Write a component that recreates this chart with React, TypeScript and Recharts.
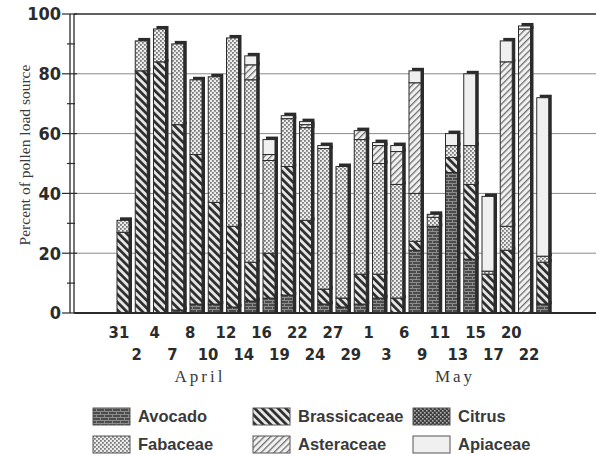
import React from 'react';
import { BarChart, Bar, XAxis, YAxis, CartesianGrid, ReferenceLine } from 'recharts';

// collection dates (day of month), Mar 31 -> May 22
const days = ['31', '2', '4', '7', '8', '10', '12', '14', '16', '19', '22', '24', '27', '29', '1', '3', '6', '9', '11', '13', '15', '17', '20', '22'];
const months = ['Mar', 'Apr', 'Apr', 'Apr', 'Apr', 'Apr', 'Apr', 'Apr', 'Apr', 'Apr', 'Apr', 'Apr', 'Apr', 'Apr', 'May', 'May', 'May', 'May', 'May', 'May', 'May', 'May', 'May', 'May'];

// percent of pollen load by source
const avocado = [0, 0, 0, 1, 3, 3, 2, 4, 5, 6, 0, 3, 2, 3, 5, 0, 21, 29, 47, 18, 0, 0, 0, 3];
const brassicaceae = [27, 81, 84, 62, 50, 34, 27, 13, 15, 43, 31, 5, 3, 10, 8, 5, 3, 0, 5, 25, 13, 21, 0, 14];
const citrus = [0, 0, 0, 0, 0, 0, 0, 0, 0, 0, 0, 0, 0, 0, 0, 0, 0, 0, 0, 0, 0, 0, 0, 0];
const fabaceae = [4, 10, 11, 27, 25, 42, 63, 61, 31, 16, 31, 47, 44, 45, 37, 38, 16, 3, 4, 13, 1, 8, 0, 2];
const asteraceae = [0, 0, 0, 0, 0, 0, 0, 5, 2, 0, 1, 0, 0, 3, 6, 11, 37, 1, 0, 0, 0, 55, 95, 0];
const apiaceae = [0, 0, 0, 0, 0, 0, 0, 3, 5, 1, 1, 1, 0, 0, 1, 2, 4, 0, 4, 24, 25, 7, 1, 53];

const yTicks = [0, 10, 20, 30, 40, 50, 60, 70, 80, 90, 100];
const gridValues = [20, 40, 60, 80];

const series = [
  { key: 'avocado', name: 'Avocado', values: avocado, pattern: 'pAvocado' },
  { key: 'brassicaceae', name: 'Brassicaceae', values: brassicaceae, pattern: 'pBrass' },
  { key: 'citrus', name: 'Citrus', values: citrus, pattern: 'pCitrus' },
  { key: 'fabaceae', name: 'Fabaceae', values: fabaceae, pattern: 'pFab' },
  { key: 'asteraceae', name: 'Asteraceae', values: asteraceae, pattern: 'pAster' },
  { key: 'apiaceae', name: 'Apiaceae', values: apiaceae, pattern: 'pApi' },
];

const data = days.map((d, i) => {
  const row: Record<string, any> = { key: `${months[i]} ${d}` };
  series.forEach((s) => { row[s.key] = s.values[i]; });
  return row;
});

const W = 597;
const H = 454;
const TOP = 14;
const BOTTOM = 313;
const PLOT_LEFT = 74;
const PLOT_RIGHT = 596;
const BAR_PAD = { left: 41, right: 43 };
const LABEL_PAD = { left: 36, right: 58 };
const BAND = (PLOT_RIGHT - PLOT_LEFT - BAR_PAD.left - BAR_PAD.right) / days.length;

const NARROW = '"Liberation Sans Narrow", "DejaVu Sans Condensed", "Arial Narrow", sans-serif';
const SERIF = '"Liberation Serif", "DejaVu Serif", serif';
const SANS = '"Liberation Sans", Arial, sans-serif';
const INK = '#2b2b2b';

const Patterns = () => (
  <defs>
    <pattern id="pAvocado" width="8" height="6" patternUnits="userSpaceOnUse">
      <rect width="8" height="6" fill="#4c4c4c" />
      <line x1="0" y1="0.5" x2="8" y2="0.5" stroke="#8c8c8c" strokeWidth="1" />
      <line x1="0" y1="3.5" x2="8" y2="3.5" stroke="#8c8c8c" strokeWidth="1" />
      <line x1="0.5" y1="0" x2="0.5" y2="3" stroke="#8c8c8c" strokeWidth="1" />
      <line x1="4.5" y1="3" x2="4.5" y2="6" stroke="#8c8c8c" strokeWidth="1" />
    </pattern>
    <pattern id="pBrass" width="5.5" height="5.5" patternUnits="userSpaceOnUse" patternTransform="rotate(-45)">
      <rect width="5.5" height="5.5" fill="#e6e6e6" />
      <rect width="2.7" height="5.5" fill="#2e2e2e" />
    </pattern>
    <pattern id="pCitrus" width="4" height="4" patternUnits="userSpaceOnUse">
      <rect width="4" height="4" fill="#3e3e3e" />
      <rect x="0" y="0" width="1.6" height="1.6" fill="#b0b0b0" />
      <rect x="2" y="2" width="1.6" height="1.6" fill="#b0b0b0" />
    </pattern>
    <pattern id="pFab" width="4" height="4" patternUnits="userSpaceOnUse">
      <rect width="4" height="4" fill="#ececec" />
      <rect x="0" y="0" width="1.8" height="1.8" fill="#7c7c7c" />
      <rect x="2" y="2" width="1.8" height="1.8" fill="#7c7c7c" />
    </pattern>
    <pattern id="pAster" width="4.5" height="4.5" patternUnits="userSpaceOnUse" patternTransform="rotate(45)">
      <rect width="4.5" height="4.5" fill="#f1f1f1" />
      <rect width="1.3" height="4.5" fill="#707070" />
    </pattern>
    <pattern id="pApi" width="4" height="4" patternUnits="userSpaceOnUse">
      <rect width="4" height="4" fill="#f0f0f0" />
    </pattern>
  </defs>
);

// one stacked segment, with the dark offset "shadow" on the right and top
const Segment = (props: any) => {
  const { x, y, width, height, fill } = props;
  if (!height || height <= 0) return <g />;
  const bx = x - 1;
  return (
    <g>
      <rect x={bx + 3} y={y - 3} width={width} height={height + 3} fill={INK} />
      <rect x={bx} y={y} width={width} height={height} fill={fill} stroke={INK} strokeWidth={1} />
    </g>
  );
};

// small tick marks between bars
const BoundaryTick = (props: any) => {
  const { x, y, index } = props;
  const h = BAND / 2;
  return (
    <g>
      <line x1={x - h} x2={x - h} y1={y} y2={y + 5} stroke={INK} strokeWidth={1.2} />
      {index === 0 && <line x1={x - 3 * h} x2={x - 3 * h} y1={y} y2={y + 5} stroke={INK} strokeWidth={1.2} />}
    </g>
  );
};

const DayTick = (props: any) => {
  const { x, y, index } = props;
  const lower = index % 2 === 1;
  return (
    <text x={x} y={y + (lower ? 47 : 25)} textAnchor="middle" fontFamily={NARROW} fontWeight="bold" fontSize={16.5} fill={INK}>
      {days[index]}
    </text>
  );
};

const PctTick = (props: any) => {
  const { x, y, payload } = props;
  const v = payload.value;
  if (v % 20 !== 0) {
    return <line x1={x - 7} x2={x + 1} y1={y} y2={y} stroke={INK} strokeWidth={1.2} />;
  }
  return (
    <g>
      <line x1={x - 12} x2={x + 3} y1={y} y2={y} stroke={INK} strokeWidth={1.2} />
      <text x={x - 13} y={y} dy="0.36em" textAnchor="end" fontFamily={NARROW} fontWeight="bold" fontSize={18} fill={INK}>
        {v}
      </text>
    </g>
  );
};

const legendPos = [
  { sx: 93, tx: 138, sy: 408 },
  { sx: 253, tx: 298, sy: 408 },
  { sx: 413, tx: 458, sy: 408 },
  { sx: 93, tx: 138, sy: 436 },
  { sx: 253, tx: 298, sy: 436 },
  { sx: 413, tx: 458, sy: 436 },
];

export default function App() {
  return (
    <div style={{ position: 'absolute', left: 0, top: 0, width: W, height: H, background: '#fff' }}>
      <BarChart width={W} height={H} data={data} margin={{ top: TOP, right: W - PLOT_RIGHT, left: 0, bottom: H - BOTTOM - 60 }}>
        <Patterns />
        <XAxis xAxisId="bar" dataKey="key" height={0} padding={BAR_PAD} axisLine={false} tickLine={false}
          tickSize={0} tickMargin={0} interval={0} tick={<BoundaryTick />} />
        <XAxis xAxisId="lab" dataKey="key" height={60} padding={LABEL_PAD} axisLine={{ stroke: INK, strokeWidth: 2 }}
          tickLine={false} tickSize={0} tickMargin={0} interval={0} tick={<DayTick />} />
        <YAxis yAxisId="v" width={PLOT_LEFT} domain={[0, 100]} ticks={yTicks} interval={0}
          axisLine={{ stroke: INK, strokeWidth: 1.3 }} tickLine={false} tickSize={0} tickMargin={0} tick={<PctTick />} />
        <CartesianGrid xAxisId="bar" yAxisId="v" vertical={false} horizontalValues={gridValues} stroke="#8a8a8a" strokeWidth={1} />
        {series.map((s) => (
          <Bar key={s.key} xAxisId="bar" yAxisId="v" stackId="a" dataKey={s.key} name={s.name}
            fill={`url(#${s.pattern})`} barSize={12} shape={<Segment />} isAnimationActive={false} />
        ))}
        <ReferenceLine xAxisId="bar" yAxisId="v" y={100} stroke={INK} strokeWidth={1.5} />
      </BarChart>

      <svg width={W} height={H} style={{ position: 'absolute', left: 0, top: 0, pointerEvents: 'none' }}>
        {/* second rule of the double y axis */}
        <line x1={PLOT_LEFT - 4} x2={PLOT_LEFT - 4} y1={TOP} y2={BOTTOM} stroke={INK} strokeWidth={1.3} />
        <text transform="translate(30,155) rotate(-90)" textAnchor="middle" fontFamily={SERIF} fontSize={15.5} fill="#3a3a3a">
          Percent of pollen load source
        </text>
        <text x={200} y={382} textAnchor="middle" fontFamily={SERIF} fontSize={17} letterSpacing={3} fill="#3a3a3a">April</text>
        <text x={455} y={382} textAnchor="middle" fontFamily={SERIF} fontSize={17} letterSpacing={3} fill="#3a3a3a">May</text>
        {series.map((s, i) => {
          const p = legendPos[i];
          return (
            <g key={s.key}>
              <rect x={p.sx} y={p.sy} width={37} height={17} fill={`url(#${s.pattern})`} stroke="#555" strokeWidth={1} />
              <text x={p.tx} y={p.sy + 14} fontFamily={SANS} fontWeight="bold" fontSize={16.5} fill="#3a3a3a">{s.name}</text>
            </g>
          );
        })}
      </svg>
    </div>
  );
}
